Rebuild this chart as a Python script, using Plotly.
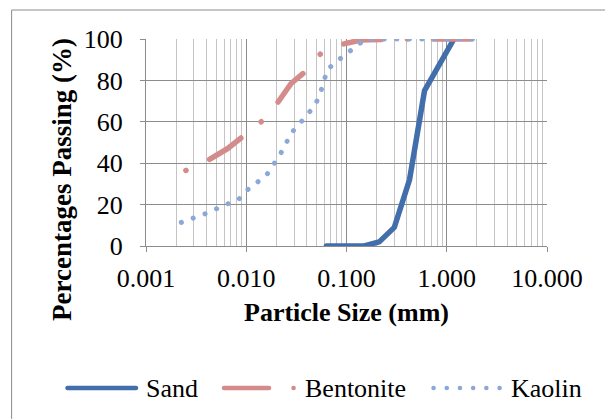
import plotly.graph_objects as go

# ---- data ----
sand_size = [0.063, 0.15, 0.212, 0.3, 0.425, 0.6, 1.18]
sand_pass = [0, 0, 2, 9, 32, 75, 100]

bent_size = [0.0025, 0.0042, 0.0065, 0.0085, 0.0095, 0.0145, 0.0204, 0.028, 0.040,
             0.0566, 0.093, 0.14, 0.3, 0.6, 1.18, 2.0]
bent_pass = [36.5, 41.5, 47, 51.5, 54, 60.5, 69, 78.5, 84.8,
             93.5, 97.6, 99.5, 100, 100, 100, 100]

kaol_size = [0.00225, 0.0039, 0.0065, 0.0083, 0.0101, 0.0158, 0.0217, 0.0282, 0.041,
             0.0489, 0.0548, 0.0645, 0.08, 0.0995, 0.124, 0.155, 0.3, 0.6, 1.18, 2.0]
kaol_pass = [11.4, 15.6, 20.3, 22.2, 26.9, 34, 44, 54.6, 63.6,
             68.3, 73.8, 85.3, 89.2, 92.9, 96.8, 100, 100, 100, 100, 100]

series_names = ["Sand", "Bentonite", "Kaolin"]
x_ticks = [0.001, 0.01, 0.1, 1, 10]
x_tick_text = ["0.001", "0.010", "0.100", "1.000", "10.000"]
y_ticks = [0, 20, 40, 60, 80, 100]

# ---- styles ----
FONT = "Liberation Serif"
C_SAND = "#426EAB"
C_BENT = "#D38C8B"
C_KAOL = "#8CA8D6"
DASH_BENT = "0.1px,26px,38px,26px"
DASH_KAOL = "0.1px,12.5px"

W, H = 605, 419
L, R, T, B = 146, 58, 39, 173
PW, PH = W - L - R, H - T - B


def px(xp):
    return (xp - L) / PW


def py(yp):
    return (H - B - yp) / PH


fig = go.Figure()
fig.add_trace(go.Scatter(x=sand_size, y=sand_pass, mode="lines", name=series_names[0],
                         line=dict(color=C_SAND, width=5.5), showlegend=False))
fig.add_trace(go.Scatter(x=bent_size, y=bent_pass, mode="lines", name=series_names[1],
                         line=dict(color=C_BENT, width=5.5, dash=DASH_BENT), showlegend=False))
fig.add_trace(go.Scatter(x=kaol_size, y=kaol_pass, mode="lines", name=series_names[2],
                         line=dict(color=C_KAOL, width=5, dash=DASH_KAOL), showlegend=False))

shapes = []
annotations = []

# outer chart border (cropped on right/bottom in the reference)
shapes.append(dict(type="rect", xref="paper", yref="paper",
                   x0=px(12), x1=px(640), y0=py(460), y1=py(10),
                   line=dict(color="#8C8C8C", width=1), fillcolor="rgba(0,0,0,0)", layer="below"))

# custom legend
ly = py(388)
shapes.append(dict(type="line", xref="paper", yref="paper", x0=px(67.5), x1=px(136),
                   y0=ly, y1=ly, line=dict(color=C_SAND, width=4.5)))
shapes.append(dict(type="line", xref="paper", yref="paper", x0=px(224), x1=px(294),
                   y0=ly, y1=ly, line=dict(color=C_BENT, width=4.5, dash="45px,24.5px,0.1px,30px")))
shapes.append(dict(type="line", xref="paper", yref="paper", x0=px(433.5), x1=px(505),
                   y0=ly, y1=ly, line=dict(color=C_KAOL, width=4.5, dash="0.1px,13.1px")))
for name, xl in zip(series_names, [144, 303, 509]):
    annotations.append(dict(text=name, xref="paper", yref="paper", x=px(xl), y=ly,
                            xanchor="left", yanchor="middle", showarrow=False,
                            font=dict(family=FONT, size=26, color="black")))

# axis titles
annotations.append(dict(text="<b>Particle Size (mm)</b>", xref="paper", yref="paper",
                        x=0.5, y=py(312), xanchor="center", yanchor="middle", showarrow=False,
                        font=dict(family=FONT, size=26, color="black")))
annotations.append(dict(text="<b>Percentages Passing (%)</b>", xref="paper", yref="paper",
                        x=px(62), y=py(180), xanchor="center", yanchor="middle", showarrow=False,
                        textangle=-90, font=dict(family=FONT, size=27, color="black")))

fig.update_layout(
    width=W, height=H,
    margin=dict(l=L, r=R, t=T, b=B, pad=0),
    paper_bgcolor="white", plot_bgcolor="white",
    font=dict(family=FONT, size=26, color="black"),
    showlegend=False,
    shapes=shapes, annotations=annotations,
    xaxis=dict(type="log", range=[-3, 1], tickmode="array", tickvals=x_ticks, ticktext=x_tick_text,
               showgrid=True, gridcolor="#8C8C8C", gridwidth=1,
               minor=dict(dtick="D1", showgrid=True, gridcolor="#C4C4C4", gridwidth=1, ticks=""),
               showline=True, linecolor="#8C8C8C", linewidth=1,
               ticks="outside", ticklen=5, tickcolor="#8C8C8C",
               tickfont=dict(family=FONT, size=26, color="black"), ticklabelstandoff=4,
               zeroline=False, mirror=False),
    yaxis=dict(range=[0, 100], tickvals=y_ticks,
               showgrid=True, gridcolor="#8C8C8C", gridwidth=1,
               showline=True, linecolor="#8C8C8C", linewidth=1,
               ticks="outside", ticklen=5, tickcolor="#8C8C8C",
               tickfont=dict(family=FONT, size=26, color="black"), ticklabelstandoff=12,
               zeroline=False),
)

post = """
document.body.style.margin = '0';
document.body.style.padding = '0';
document.querySelectorAll('.scatterlayer path.js-line, .shapelayer path').forEach(function(p){
  p.style.strokeLinecap = 'round';
});
"""
fig.write_html("out.html", post_script=post, config={"displayModeBar": False})
